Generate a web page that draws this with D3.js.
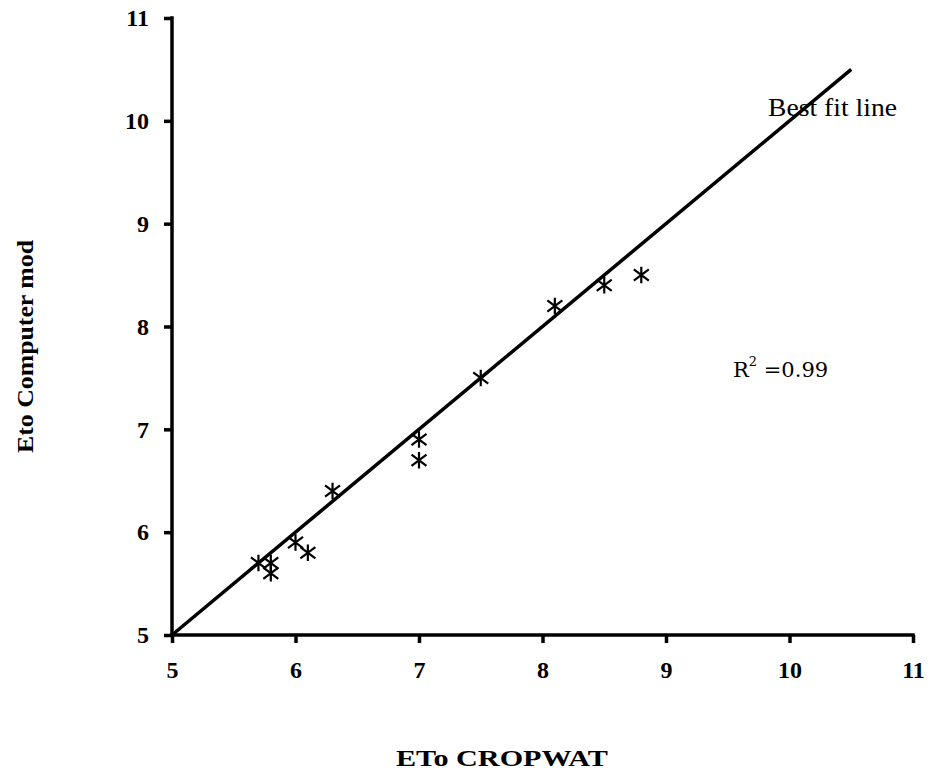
<!DOCTYPE html>
<html><head><meta charset="utf-8">
<script src="https://cdn.jsdelivr.net/npm/d3@7"></script>
<style>body{margin:0;background:#fff}svg{display:block}</style>
</head><body>
<script>
const xVals = [5.7, 5.8, 5.8, 6.0, 6.1, 6.3, 7.0, 7.0, 7.5, 8.1, 8.5, 8.8];
const yVals = [5.7, 5.7, 5.6, 5.9, 5.8, 6.4, 6.9, 6.7, 7.5, 8.2, 8.4, 8.5];
const fitLine = [[5, 5], [10.5, 10.5]];
const xTicks = [5, 6, 7, 8, 9, 10, 11];
const yTicks = [5, 6, 7, 8, 9, 10, 11];

const W = 931, H = 774;
const svg = d3.select("body").append("svg").attr("width", W).attr("height", H);
const x = d3.scaleLinear().domain([5, 11]).range([172, 913]);
const y = d3.scaleLinear().domain([5, 11]).range([635, 18]);
const serif = "'Liberation Serif','Times New Roman',serif";

// axes
const xAxis = svg.append("g").attr("transform", "translate(0,635)")
  .call(d3.axisBottom(x).tickValues(xTicks).tickSize(8).tickSizeOuter(0).tickPadding(18).tickFormat(d3.format("d")));
const yAxis = svg.append("g").attr("transform", "translate(172,0)")
  .call(d3.axisLeft(y).tickValues(yTicks).tickSize(8).tickSizeOuter(0).tickPadding(15).tickFormat(d3.format("d")));
[xAxis, yAxis].forEach(a => {
  a.select(".domain").attr("stroke", "#000").attr("stroke-width", 3.5);
  a.selectAll(".tick line").attr("stroke", "#000").attr("stroke-width", 3.5);
  a.selectAll(".tick text").attr("font-family", serif).attr("font-weight", "bold")
    .attr("font-size", 24).attr("fill", "#000");
});
xAxis.select(".domain").attr("d", `M${x(5)-1.75},0H${x(11)+1.75}`);
yAxis.select(".domain").attr("d", `M0,${y(5)+1.75}V${y(11)-1.75}`);

// fit line
svg.append("path")
  .attr("d", d3.line().x(d => x(d[0])).y(d => y(d[1]))(fitLine))
  .attr("stroke", "#000").attr("stroke-width", 3.5).attr("fill", "none");

// markers (asterisk)
const pts = xVals.map((v, i) => [v, yVals[i]]);
const g = svg.append("g");
pts.forEach(([a, b]) => {
  const cx = x(a), cy = y(b), r = 7.5;
  const p = `M${cx - r},${cy - r * 0.75}L${cx + r},${cy + r * 0.75}` +
            `M${cx - r},${cy + r * 0.75}L${cx + r},${cy - r * 0.75}` +
            `M${cx},${cy - r * 1.1}L${cx},${cy + r * 1.1}`;
  g.append("path").attr("d", p).attr("stroke", "#000").attr("stroke-width", 2.2).attr("fill", "none");
});

// annotations
svg.append("text").attr("x", 768).attr("y", 116).attr("font-family", serif)
  .attr("font-size", 25).attr("fill", "#000")
  .attr("textLength", 129).attr("lengthAdjust", "spacingAndGlyphs").text("Best fit line");
const r2 = svg.append("text").attr("x", 733).attr("y", 377).attr("font-family", "'DejaVu Serif',serif")
  .attr("font-size", 21).attr("fill", "#000");
r2.append("tspan").text("R");
r2.append("tspan").attr("dy", -11).attr("font-size", 13).text("2");
r2.append("tspan").attr("dy", 11).text(" =0.99");

// axis titles
svg.append("text").attr("x", 396).attr("y", 766)
  .attr("font-family", serif).attr("font-weight", "bold").attr("font-size", 23).attr("fill", "#000")
  .attr("textLength", 212).attr("lengthAdjust", "spacingAndGlyphs")
  .text("ETo CROPWAT");
svg.append("text").attr("transform", "translate(33,453) rotate(-90)")
  .attr("font-family", serif).attr("font-weight", "bold").attr("font-size", 23).attr("fill", "#000")
  .attr("textLength", 213).attr("lengthAdjust", "spacingAndGlyphs")
  .text("Eto Computer mod");
</script>
</body></html>
